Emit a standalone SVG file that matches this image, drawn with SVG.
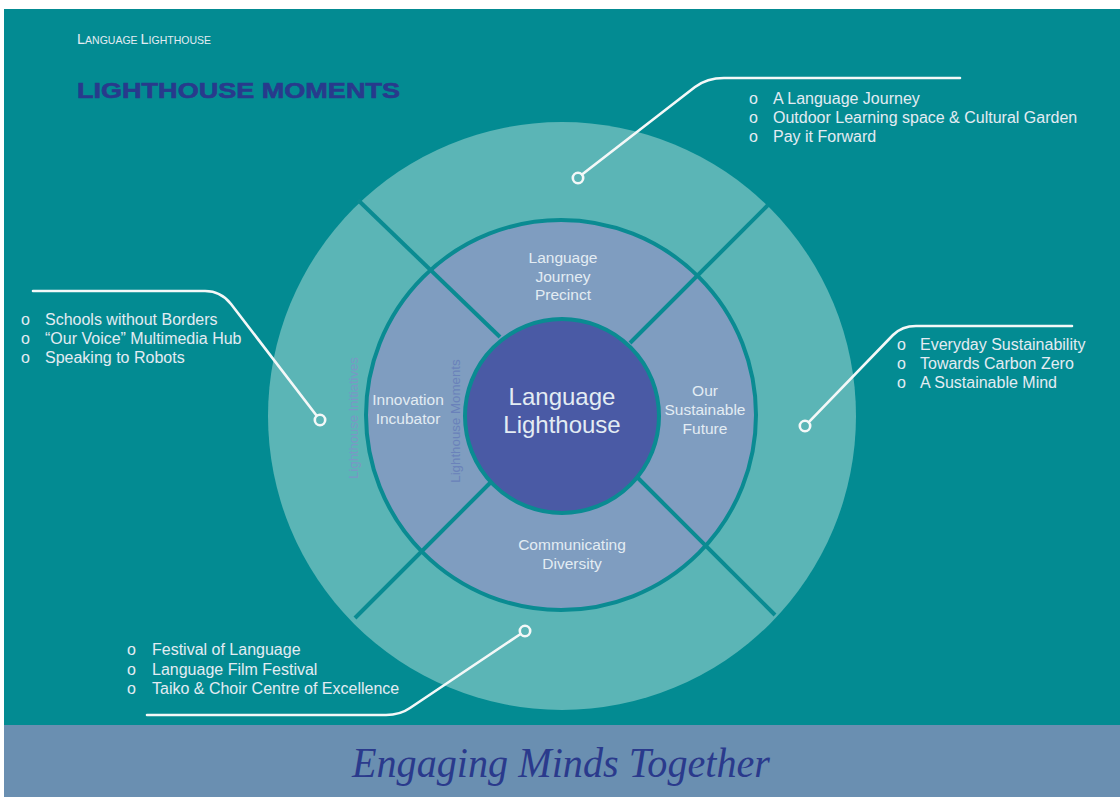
<svg xmlns="http://www.w3.org/2000/svg" width="1120" height="797" viewBox="0 0 1120 797">
  <style>
    .lbl { font-family: "Liberation Sans", Arial, sans-serif; fill: #e3ecf3; }
    .seg { font-size: 15.5px; text-anchor: middle; }
    .bul { font-size: 16px; }
    .conn { fill: none; stroke: #f4f8f8; stroke-width: 2.6; stroke-linecap: round; }
    .dot { fill: none; stroke: #f4f8f8; stroke-width: 2.6; }
    .div { stroke: #0a8b92; stroke-width: 4; stroke-linecap: butt; }
  </style>
  <rect x="0" y="0" width="1120" height="797" fill="#ffffff"/>
  <rect x="4" y="9" width="1116" height="716" fill="#038b92"/>
  <rect x="4" y="725" width="1116" height="72" fill="#6a8fb1"/>

  <g id="header">
    <text class="lbl" x="77" y="44"><tspan font-size="14.5">L</tspan><tspan font-size="10.5">ANGUAGE </tspan><tspan font-size="14.5">L</tspan><tspan font-size="10.5">IGHTHOUSE</tspan></text>
    <text x="77" y="98" font-family="Liberation Sans, Arial, sans-serif" font-weight="bold" font-size="21.5" fill="#283a8c" stroke="#283a8c" stroke-width="0.6" textLength="323" lengthAdjust="spacingAndGlyphs">LIGHTHOUSE MOMENTS</text>
  </g>

  <g id="outer-ring">
    <circle cx="562" cy="416" r="294" fill="#5bb5b6"/>
    <text x="358" y="418" transform="rotate(-90 358 418)" font-family="Liberation Sans, Arial, sans-serif" font-size="13" text-anchor="middle" fill="#7b96c6">Lighthouse Initiatives</text>
  </g>

  <g id="inner-ring">
    <circle cx="561" cy="415" r="195" fill="#7f9dc0" stroke="#0a8b92" stroke-width="4"/>
    <text x="460" y="421" transform="rotate(-90 460 421)" font-family="Liberation Sans, Arial, sans-serif" font-size="13.3" text-anchor="middle" fill="#6a82ba">Lighthouse Moments</text>
  </g>

  <g id="dividers">
    <line class="div" x1="358" y1="200" x2="500" y2="337"/>
    <line class="div" x1="768" y1="205" x2="630" y2="343"/>
    <line class="div" x1="355" y1="618" x2="490" y2="483"/>
    <line class="div" x1="775" y1="615" x2="638" y2="478"/>
  </g>

  <g id="center">
    <circle cx="562" cy="416" r="97" fill="#4a5aa5" stroke="#0a8b92" stroke-width="4"/>
    <text class="lbl" x="562" y="405" font-size="24" text-anchor="middle">Language</text>
    <text class="lbl" x="562" y="433" font-size="24" text-anchor="middle">Lighthouse</text>
  </g>

  <g id="seg-journey">
    <text class="lbl seg" x="563" y="263">Language</text>
    <text class="lbl seg" x="563" y="282">Journey</text>
    <text class="lbl seg" x="563" y="300">Precinct</text>
  </g>
  <g id="seg-innovation">
    <text class="lbl seg" x="408" y="405">Innovation</text>
    <text class="lbl seg" x="408" y="424">Incubator</text>
  </g>
  <g id="seg-sustainable">
    <text class="lbl seg" x="705" y="396">Our</text>
    <text class="lbl seg" x="705" y="415">Sustainable</text>
    <text class="lbl seg" x="705" y="434">Future</text>
  </g>
  <g id="seg-diversity">
    <text class="lbl seg" x="572" y="550">Communicating</text>
    <text class="lbl seg" x="572" y="569">Diversity</text>
  </g>

  <g id="connectors">
    <path class="conn" d="M 582 174.5 L 695 87 Q 707 78 724 78 L 960 78"/>
    <path class="conn" d="M 33 291 L 205 291 Q 221 291 231 304 L 316.5 415.5"/>
    <path class="conn" d="M 808.8 422.2 L 893 335 Q 902 326 916 326 L 1072 326"/>
    <path class="conn" d="M 520.5 634 L 410 708 Q 400 715 386 715 L 147 715"/>
    <circle class="dot" cx="578" cy="178" r="5.2"/>
    <circle class="dot" cx="320" cy="420" r="5.2"/>
    <circle class="dot" cx="805" cy="426" r="5.2"/>
    <circle class="dot" cx="525" cy="631" r="5.2"/>
  </g>

  <g id="callout-top">
    <text class="lbl bul" x="749" y="104">o</text><text class="lbl bul" x="773" y="104">A Language Journey</text>
    <text class="lbl bul" x="749" y="123">o</text><text class="lbl bul" x="773" y="123">Outdoor Learning space &amp; Cultural Garden</text>
    <text class="lbl bul" x="749" y="142">o</text><text class="lbl bul" x="773" y="142">Pay it Forward</text>
  </g>
  <g id="callout-left">
    <text class="lbl bul" x="21" y="325">o</text><text class="lbl bul" x="45" y="325">Schools without Borders</text>
    <text class="lbl bul" x="21" y="344">o</text><text class="lbl bul" x="45" y="344">“Our Voice” Multimedia Hub</text>
    <text class="lbl bul" x="21" y="363">o</text><text class="lbl bul" x="45" y="363">Speaking to Robots</text>
  </g>
  <g id="callout-right">
    <text class="lbl bul" x="897" y="350">o</text><text class="lbl bul" x="920" y="350">Everyday Sustainability</text>
    <text class="lbl bul" x="897" y="369">o</text><text class="lbl bul" x="920" y="369">Towards Carbon Zero</text>
    <text class="lbl bul" x="897" y="388">o</text><text class="lbl bul" x="920" y="388">A Sustainable Mind</text>
  </g>
  <g id="callout-bottom">
    <text class="lbl bul" x="127" y="655">o</text><text class="lbl bul" x="152" y="655">Festival of Language</text>
    <text class="lbl bul" x="127" y="675">o</text><text class="lbl bul" x="152" y="675">Language Film Festival</text>
    <text class="lbl bul" x="127" y="694">o</text><text class="lbl bul" x="152" y="694">Taiko &amp; Choir Centre of Excellence</text>
  </g>

  <g id="footer">
    <text x="561" y="777" font-family="Liberation Serif, Times New Roman, serif" font-style="italic" font-size="42" fill="#2a3a8c" text-anchor="middle" textLength="418" lengthAdjust="spacingAndGlyphs">Engaging Minds Together</text>
  </g>
</svg>
